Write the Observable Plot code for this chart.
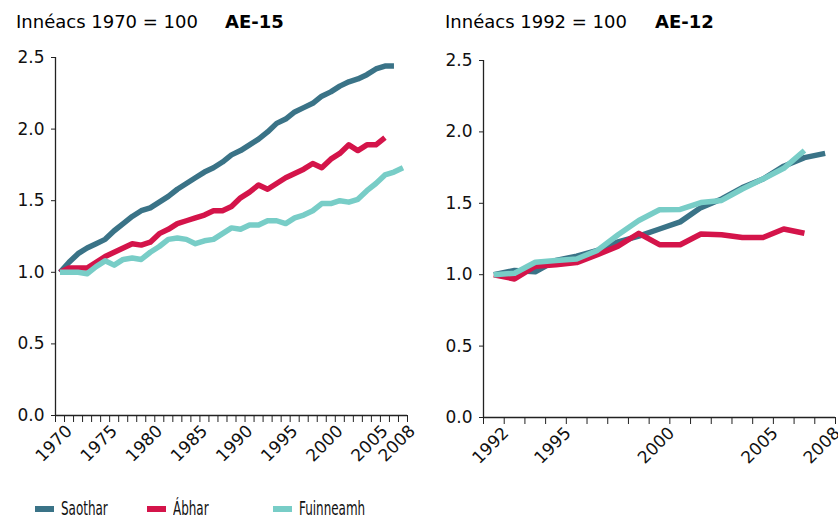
<!DOCTYPE html>
<html>
<head>
<meta charset="utf-8">
<script src="https://cdn.jsdelivr.net/npm/d3@7"></script>
<script src="https://cdn.jsdelivr.net/npm/@observablehq/plot@0.6"></script>
<style>
  body { margin: 0; background: #fff; }
  #wrap { position: relative; width: 838px; height: 518px; overflow: hidden; font-family: "DejaVu Sans", Verdana, sans-serif; color: #000; }
  .t { position: absolute; top: 13px; font-size: 18px; line-height: 18px; white-space: pre; }
  .b { font-weight: bold; }
  .panel { position: absolute; top: 40px; }
  .sw { position: absolute; top: 506px; width: 19px; height: 6px; }
  .lg { position: absolute; top: 499px; font-family: "DejaVu Sans Condensed", "DejaVu Sans", sans-serif; font-stretch: condensed; font-size: 19px; line-height: 19px; color: #111; white-space: pre; transform: scaleX(0.7); transform-origin: 0 0; }
</style>
</head>
<body>
<div id="wrap">
  <div class="t" style="left:16px">Innéacs 1970 = 100</div>
  <div class="t b" style="left:225px">AE-15</div>
  <div class="t" style="left:445px">Innéacs 1992 = 100</div>
  <div class="t b" style="left:655px">AE-12</div>
  <div class="panel" id="left" style="left:0px"></div>
  <div class="panel" id="right" style="left:419px"></div>
  <div id="legend"></div>
</div>
<script>
// ---- data ----
const seriesNames = ["Saothar", "Ábhar", "Fuinneamh"];
const seriesColors = ["#3a7387", "#d4144a", "#78cdc7"];
const yTicks = [0, 0.5, 1.0, 1.5, 2.0, 2.5];

// Left panel: EU-15, index 1970 = 1.0
const yearsLeft = [1970,1971,1972,1973,1974,1975,1976,1977,1978,1979,1980,1981,1982,1983,1984,1985,1986,1987,1988,1989,1990,1991,1992,1993,1994,1995,1996,1997,1998,1999,2000,2001,2002,2003,2004,2005,2006,2007,2008];
const labelsLeft = [1970, 1975, 1980, 1985, 1990, 1995, 2000, 2005, 2008];
const saotharLeft = [1.00,1.07,1.13,1.17,1.20,1.23,1.29,1.34,1.39,1.43,1.45,1.49,1.53,1.58,1.62,1.66,1.70,1.73,1.77,1.82,1.85,1.89,1.93,1.98,2.04,2.07,2.12,2.15,2.18,2.23,2.26,2.30,2.33,2.35,2.38,2.42,2.44,2.44];
const abharLeft = [1.00,1.03,1.03,1.03,1.07,1.11,1.14,1.17,1.20,1.19,1.21,1.27,1.30,1.34,1.36,1.38,1.40,1.43,1.43,1.46,1.52,1.56,1.61,1.58,1.62,1.66,1.69,1.72,1.76,1.73,1.79,1.83,1.89,1.85,1.89,1.89,1.94];
const fuinneamhLeft = [1.00,1.00,1.00,0.99,1.04,1.08,1.05,1.09,1.10,1.09,1.14,1.18,1.23,1.24,1.23,1.20,1.22,1.23,1.27,1.31,1.30,1.33,1.33,1.36,1.36,1.34,1.38,1.40,1.43,1.48,1.48,1.50,1.49,1.51,1.57,1.62,1.68,1.70,1.73];

// Right panel: EU-12, index 1992 = 1.0
const yearsRight = [1992,1993,1994,1995,1996,1997,1998,1999,2000,2001,2002,2003,2004,2005,2006,2007,2008];
const labelsRight = [1992, 1995, 2000, 2005, 2008];
const saotharRight = [1.00,1.03,1.02,1.10,1.13,1.17,1.23,1.27,1.32,1.37,1.47,1.53,1.61,1.67,1.76,1.82,1.85];
const abharRight = [1.00,0.97,1.06,1.07,1.085,1.14,1.20,1.29,1.21,1.21,1.285,1.28,1.26,1.26,1.32,1.29];
const fuinneamhRight = [1.00,1.01,1.087,1.10,1.11,1.17,1.28,1.38,1.455,1.457,1.505,1.52,1.60,1.67,1.745,1.87];

function rows(years, lists) {
  const out = [];
  lists.forEach((vals, s) => vals.forEach((v, i) => out.push({year: years[i], value: v, series: seriesNames[s]})));
  return out;
}

function panel({years, labels, data, width, height, marginLeft, marginRight, marginTop, marginBottom, labelShift}) {
  const x0 = years[0] - 0.5, x1 = years[years.length - 1] + 0.5;
  const bounds = d3.range(x0, x1 + 0.01, 1);
  const halfBand = (width - marginLeft - marginRight) / years.length / 2;
  return Plot.plot({
    width, height, marginLeft, marginRight, marginTop, marginBottom,
    style: {fontFamily: "'DejaVu Sans', Verdana, sans-serif", fontSize: "17px", color: "#111", background: "transparent", overflow: "visible"},
    x: {domain: [x0, x1], axis: null, label: null},
    y: {domain: [0, 2.5], axis: null, label: null},
    color: {domain: seriesNames, range: seriesColors},
    marks: [
      Plot.axisY({ticks: yTicks, tickFormat: d3.format(".1f"), tickSize: 4, tickPadding: 7, stroke: "#222", fill: "#111", label: null}),
      Plot.axisX({ticks: bounds, tickSize: 7, tickFormat: () => "", stroke: "#222", label: null}),
      Plot.axisX({ticks: labels, tickSize: 0, tickPadding: 8, tickRotate: -45, textAnchor: "end", lineAnchor: "top", dx: halfBand + labelShift, tickFormat: d => String(d), fill: "#111", label: null}),
      Plot.ruleX([x0], {y1: 0, y2: 2.5, stroke: "#222", strokeWidth: 1.3}),
      Plot.ruleY([0], {stroke: "#222", strokeWidth: 1.3}),
      Plot.line(data, {x: "year", y: "value", z: "series", stroke: "series", strokeWidth: 5.5, strokeLinejoin: "round", strokeLinecap: "butt"})
    ]
  });
}

document.getElementById("left").append(panel({
  years: yearsLeft, labels: labelsLeft,
  data: rows(yearsLeft, [saotharLeft, abharLeft, fuinneamhLeft]),
  width: 419, height: 440, marginLeft: 55, marginRight: 12, marginTop: 17, marginBottom: 65, labelShift: 0
}));
document.getElementById("right").append(panel({
  years: yearsRight, labels: labelsRight,
  data: rows(yearsRight, [saotharRight, abharRight, fuinneamhRight]),
  width: 419, height: 440, marginLeft: 64, marginRight: 3, marginTop: 20, marginBottom: 63, labelShift: -3
}));

// legend
const legendX = [35, 147, 273];
const legend = document.getElementById("legend");
seriesNames.forEach((name, i) => {
  const sw = document.createElement("div");
  sw.className = "sw";
  sw.style.left = legendX[i] + "px";
  sw.style.background = seriesColors[i];
  legend.append(sw);
  const tx = document.createElement("div");
  tx.className = "lg";
  tx.style.left = (legendX[i] + 26) + "px";
  tx.textContent = name;
  legend.append(tx);
});
</script>
</body>
</html>
